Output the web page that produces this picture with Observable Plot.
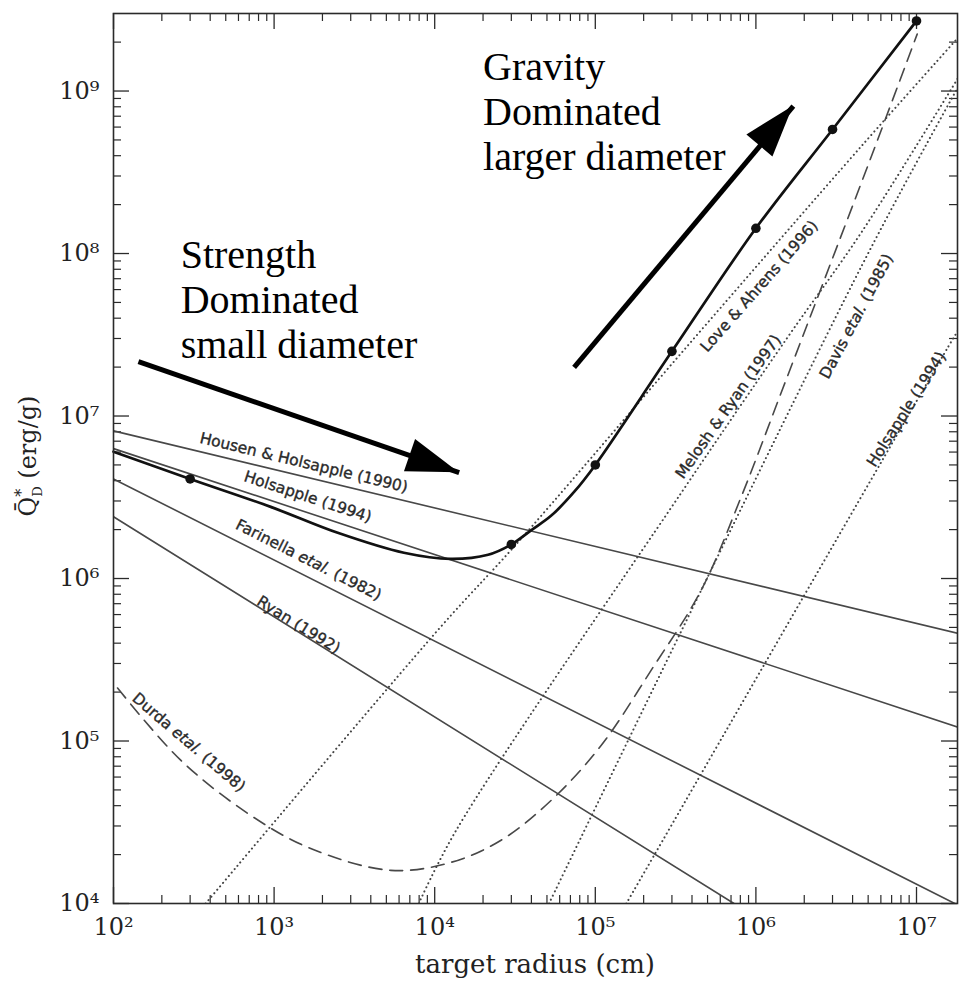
<!DOCTYPE html>
<html><head><meta charset="utf-8">
<script src="https://cdn.jsdelivr.net/npm/d3@7"></script>
<script src="https://cdn.jsdelivr.net/npm/@observablehq/plot@0.6"></script>
<style>html,body{margin:0;padding:0;background:#fff;overflow:hidden}</style>
</head><body><div id="chart"></div>
<script>
// ---- axis ticks ----
const xMajor = [1e2, 1e3, 1e4, 1e5, 1e6, 1e7];
const xMajorLabels = ["10²", "10³", "10⁴", "10⁵", "10⁶", "10⁷"];
const yMajor = [1e4, 1e5, 1e6, 1e7, 1e8, 1e9];
const yMajorLabels = ["10⁴", "10⁵", "10⁶", "10⁷", "10⁸", "10⁹"];
const xDomain = [1e2, 1.8e7];
const yDomain = [1e4, 3e9];

// ---- strength-regime laws (solid gray) ----
const housenR = [1e2, 1.8e7];     const housenQ = [8.1e6, 4.6e5];
const holsSR = [1e2, 1.8e7];      const holsSQ = [6.3e6, 1.22e5];
const farinellaR = [1e2, 1.73e7]; const farinellaQ = [4.1e6, 1e4];
const ryanR = [1e2, 7.3e5];       const ryanQ = [2.4e6, 1e4];

// ---- gravity-regime laws (dotted gray) ----
const loveR = [375, 1.09e4, 3.12e4, 3.58e5, 4.54e6, 1.83e7];
const loveQ = [1e4, 5.04e5, 1.57e6, 2.56e7, 4.58e8, 2.15e9];
const meloshR = [7.96e3, 1.36e4, 3.43e5, 1.59e6, 4.54e6, 1.83e7];
const meloshQ = [1e4, 2.82e4, 3.37e6, 3.09e7, 1.35e8, 1.22e9];
const davisR = [5.15e4, 4.54e6, 1.65e7, 1.83e7];
const davisQ = [1e4, 8.34e7, 8.93e8, 1.07e9];
const holsGR = [1.56e5, 1.58e7, 1.83e7];
const holsGQ = [1e4, 2.68e7, 3.41e7];

// ---- Durda et al. (dashed) ----
const durdaR = [106, 262, 714, 1690, 5330, 12600, 25900, 53100, 109000, 223000, 457000, 810000, 1440000, 2630000, 5240000, 1.01e7];
const durdaQ = [2.12e5, 7.62e4, 3.49e4, 2.18e4, 1.60e4, 1.79e4, 2.45e4, 4.31e4, 9.42e4, 2.73e5, 8.5e5, 3.18e6, 1.4e7, 6.64e7, 3.97e8, 2.24e9];

// ---- this work: fit curve (black) and simulation points ----
const fitR = [100, 300, 953, 2490, 6430, 12600, 21500, 30000, 39800, 53000, 74000, 1e5, 3e5, 1e6, 3e6, 1e7];
const fitQ = [6.03e6, 4.1e6, 2.76e6, 1.91e6, 1.44e6, 1.32e6, 1.40e6, 1.62e6, 1.98e6, 2.43e6, 3.42e6, 5.0e6, 2.5e7, 1.43e8, 5.8e8, 2.7e9];
const simR = [300, 3e4, 1e5, 3e5, 1e6, 3e6, 1e7];
const simQ = [4.1e6, 1.62e6, 5.0e6, 2.5e7, 1.43e8, 5.8e8, 2.7e9];

// ---- curve labels ----
const labelText = ["Housen & Holsapple (1990)", "Holsapple (1994)", "Farinella etal. (1982)", "Ryan (1992)", "Durda etal. (1998)", "Love & Ahrens (1996)", "Melosh & Ryan (1997)", "Davis etal. (1985)", "Holsapple (1994)"];
const labelR = [1.53e3, 1.62e3, 1.64e3, 1.42e3, 294, 1.05e6, 6.73e5, 4.23e6, 8.67e6];
const labelQ = [5.16e6, 3.18e6, 1.30e6, 5.18e5, 9.8e4, 6.28e7, 1.14e7, 4.1e7, 1.1e7];
const labelAngle = [13.5, 18.2, 26.8, 31.9, 40.5, -48.7, -55, -62, -57.6];

// ---- annotations ----
const noteText = ["Strength\nDominated\nsmall diameter", "Gravity\nDominated\nlarger diameter"];
const noteR = [262, 2.0e4];
const noteQ = [1.28e8, 1.84e9];
const arrowR1 = [143, 7.38e4];
const arrowQ1 = [2.16e7, 1.99e7];
const arrowR2 = [1.42e4, 1.71e6];
const arrowQ2 = [4.48e6, 8.07e8];

// ---- build tables ----
const rows = (xs, ys) => xs.map((x, i) => ({x, y: ys[i]}));
const minorOf = (lo, hi) => { const out = []; for (let e = Math.floor(Math.log10(lo)); e <= Math.ceil(Math.log10(hi)); e++) for (let m = 2; m <= 9; m++) { const v = m * 10 ** e; if (v > lo && v < hi) out.push(v); } return out; };
const xMinor = minorOf(xDomain[0], xDomain[1]);
const yMinor = minorOf(yDomain[0], yDomain[1]);
const labels = labelText.map((t, i) => ({t, x: labelR[i], y: labelQ[i], a: labelAngle[i]}));
const notes = noteText.map((t, i) => ({t, x: noteR[i], y: noteQ[i]}));
const arrows = arrowR1.map((x1, i) => ({x1, y1: arrowQ1[i], x2: arrowR2[i], y2: arrowQ2[i]}));
const xFmt = d => xMajorLabels[xMajor.findIndex(v => Math.abs(Math.log10(v) - Math.log10(d)) < 1e-6)];
const yFmt = d => yMajorLabels[yMajor.findIndex(v => Math.abs(Math.log10(v) - Math.log10(d)) < 1e-6)];

const W = 964, H = 983, mL = 113, mR = 7, mT = 13, mB = 80;
const iW = W - mL - mR, iH = H - mT - mB;
const axisColor = "#2a2a2a";
const gray = "#484848";

const solid = {x: "x", y: "y", stroke: gray, strokeWidth: 1.6, clip: true};
const dotted = {x: "x", y: "y", stroke: "#444", strokeWidth: 2, strokeDasharray: "0.1 4.4", strokeLinecap: "round", curve: "catmull-rom", clip: true};

function arrowHeads(index, scales) {
  const g = d3.create("svg:g");
  for (const a of arrows) {
    const x1 = scales.x(a.x1), y1 = scales.y(a.y1), x2 = scales.x(a.x2), y2 = scales.y(a.y2);
    const len = Math.hypot(x2 - x1, y2 - y1), ux = (x2 - x1) / len, uy = (y2 - y1) / len;
    const L = 52, Hw = 17;
    const bx = x2 - L * ux, by = y2 - L * uy;
    g.append("path")
      .attr("d", `M${x2},${y2}L${bx - Hw * uy},${by + Hw * ux}L${bx + Hw * uy},${by - Hw * ux}Z`)
      .attr("fill", "#000");
  }
  return g.node();
}

const chart = Plot.plot({
  width: W, height: H,
  marginLeft: mL, marginRight: mR, marginTop: mT, marginBottom: mB,
  x: {type: "log", domain: xDomain},
  y: {type: "log", domain: yDomain},
  style: {fontFamily: "DejaVu Serif", background: "#fff", color: "#222"},
  marks: [
    // ticks (inward)
    Plot.ruleX(xMinor, {x: d => d, insetTop: iH - 8, stroke: axisColor, strokeWidth: 1.2}),
    Plot.ruleX(xMinor, {x: d => d, insetBottom: iH - 8, stroke: axisColor, strokeWidth: 1.2}),
    Plot.ruleX(xMajor, {x: d => d, insetTop: iH - 16, stroke: axisColor, strokeWidth: 1.3}),
    Plot.ruleX(xMajor, {x: d => d, insetBottom: iH - 16, stroke: axisColor, strokeWidth: 1.3}),
    Plot.ruleY(yMinor, {y: d => d, insetRight: iW - 8, stroke: axisColor, strokeWidth: 1.2}),
    Plot.ruleY(yMinor, {y: d => d, insetLeft: iW - 8, stroke: axisColor, strokeWidth: 1.2}),
    Plot.ruleY(yMajor, {y: d => d, insetRight: iW - 16, stroke: axisColor, strokeWidth: 1.3}),
    Plot.ruleY(yMajor, {y: d => d, insetLeft: iW - 16, stroke: axisColor, strokeWidth: 1.3}),
    Plot.axisX(xMajor, {tickSize: 0, tickPadding: 14, fontSize: 24, label: null, tickFormat: xFmt}),
    Plot.axisY(yMajor, {tickSize: 0, tickPadding: 14, fontSize: 24, label: null, tickFormat: yFmt}),
    // strength laws
    Plot.line(rows(housenR, housenQ), solid),
    Plot.line(rows(holsSR, holsSQ), solid),
    Plot.line(rows(farinellaR, farinellaQ), solid),
    Plot.line(rows(ryanR, ryanQ), solid),
    // gravity laws
    Plot.line(rows(loveR, loveQ), dotted),
    Plot.line(rows(meloshR, meloshQ), dotted),
    Plot.line(rows(davisR, davisQ), dotted),
    Plot.line(rows(holsGR, holsGQ), dotted),
    Plot.line(rows(durdaR, durdaQ), {x: "x", y: "y", stroke: gray, strokeWidth: 1.6, strokeDasharray: "13 8", curve: "catmull-rom", clip: true}),
    // this work
    Plot.line(rows(fitR, fitQ), {x: "x", y: "y", stroke: "#111", strokeWidth: 2.7, curve: "catmull-rom"}),
    Plot.dot(rows(simR, simQ), {x: "x", y: "y", r: 4.8, fill: "#111"}),
    // curve labels
    Plot.text(labels, {x: "x", y: "y", text: "t", rotate: "a", fontSize: 15.5, fontFamily: "DejaVu Sans", fill: "#2a2a2a", stroke: "#2a2a2a", strokeWidth: 0.35}),
    // annotations
    Plot.text(notes, {x: "x", y: "y", text: "t", textAnchor: "start", lineAnchor: "top", fontSize: 40, lineHeight: 1.125, fontFamily: "Liberation Serif", fill: "#000"}),
    Plot.link(arrows, {x1: "x1", y1: "y1", x2: "x2", y2: "y2", stroke: "#000", strokeWidth: 5}),
    arrowHeads,
    Plot.frame({stroke: axisColor, strokeWidth: 1.6})
  ]
});

const svg = d3.select(chart);
// italic "etal."
svg.selectAll("text").filter(function () { return this.childElementCount === 0 && this.textContent.includes("etal."); }).each(function () {
  const s = this.textContent, i = s.indexOf("etal.");
  const t = d3.select(this); t.text("");
  t.append("tspan").text(s.slice(0, i));
  t.append("tspan").attr("font-style", "italic").text("etal.");
  t.append("tspan").text(s.slice(i + 5));
});
// y-axis label
const yl = svg.append("text").attr("transform", "translate(36,456) rotate(-90)").attr("text-anchor", "middle")
  .attr("font-family", "DejaVu Serif").attr("font-size", 24).attr("fill", "#222");
yl.append("tspan").text("Q\u0304");
yl.append("tspan").attr("font-size", 16).attr("dy", -9).text("*");
yl.append("tspan").attr("font-size", 13).attr("dx", -8).attr("dy", 15).text("D");
yl.append("tspan").attr("dy", -6).text(" (erg/g)");
// x-axis label
svg.append("text").attr("x", mL + iW / 2).attr("y", 973).attr("text-anchor", "middle")
  .attr("font-family", "DejaVu Serif").attr("font-size", 26).attr("fill", "#222").text("target radius (cm)");

document.getElementById("chart").appendChild(chart);
</script></body></html>
